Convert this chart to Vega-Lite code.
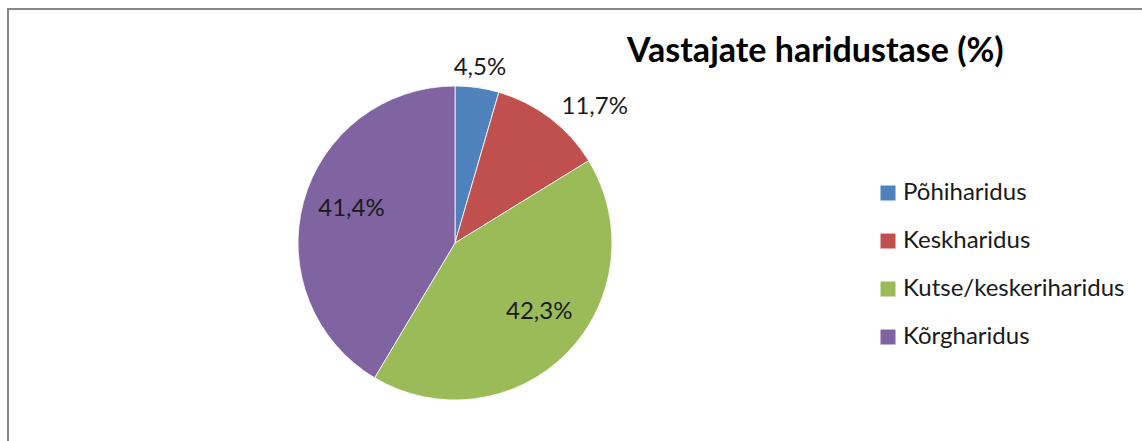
{
  "$schema": "https://vega.github.io/schema/vega-lite/v6.json",
  "autosize": {"type": "none"},
  "padding": {"left": 8, "top": 9, "right": 0, "bottom": 0},
  "width": 1200,
  "height": 500,
  "background": "white",
  "view": {"stroke": "#868686", "strokeWidth": 2},
  "config": {
    "view": {"stroke": "#868686", "strokeWidth": 2},
    "font": "Lato"
  },
  "title": {
    "text": "Vastajate haridustase (%)",
    "anchor": "start",
    "frame": "group",
    "orient": "top",
    "offset": 0,
    "dx": 619,
    "dy": 87,
    "baseline": "alphabetic",
    "font": "Lato",
    "fontSize": 34,
    "fontWeight": "bold",
    "color": "#000000"
  },
  "data": {
    "values": [
      {"category": "Põhiharidus", "value": 4.5, "label": "4,5%", "order": 1},
      {"category": "Keskharidus", "value": 11.7, "label": "11,7%", "order": 2},
      {"category": "Kutse/keskeriharidus", "value": 42.3, "label": "42,3%", "order": 3},
      {"category": "Kõrgharidus", "value": 41.4, "label": "41,4%", "order": 4}
    ]
  },
  "encoding": {
    "theta": {"field": "value", "type": "quantitative", "stack": true},
    "order": {"field": "order", "type": "quantitative"}
  },
  "layer": [
    {
      "mark": {"type": "arc", "x": 447, "y": 234, "outerRadius": 157, "stroke": "#ffffff", "strokeWidth": 0.8},
      "encoding": {
        "color": {
          "field": "category",
          "type": "nominal",
          "sort": ["Põhiharidus", "Keskharidus", "Kutse/keskeriharidus", "Kõrgharidus"],
          "scale": {
            "domain": ["Põhiharidus", "Keskharidus", "Kutse/keskeriharidus", "Kõrgharidus"],
            "range": ["#4F81BD", "#C0504D", "#9BBB59", "#8064A2"]
          },
          "legend": {
            "title": null,
            "orient": "none",
            "legendX": 868,
            "legendY": 172,
            "symbolType": "square",
            "symbolSize": 225,
            "symbolStrokeWidth": 0,
            "labelFontSize": 24,
            "labelFont": "Lato",
            "labelColor": "#1a1a1a",
            "labelOffset": 3,
            "rowPadding": 24,
            "labelLimit": 300
          }
        }
      }
    },
    {
      "mark": {
        "type": "text",
        "x": 447,
        "y": 234,
        "font": "Lato",
        "fontSize": 24,
        "color": "#1a1a1a",
        "radius": {"expr": "datum.value < 10 ? 177 : datum.value < 20 ? 195 : 109"},
        "thetaOffset": {"expr": "datum.category == 'Keskharidus' ? 0.148 : datum.category == 'Kutse/keskeriharidus' ? -0.09 : datum.category == 'Kõrgharidus' ? 0.05 : 0"}
      },
      "encoding": {
        "text": {"field": "label", "type": "nominal"}
      }
    }
  ]
}
